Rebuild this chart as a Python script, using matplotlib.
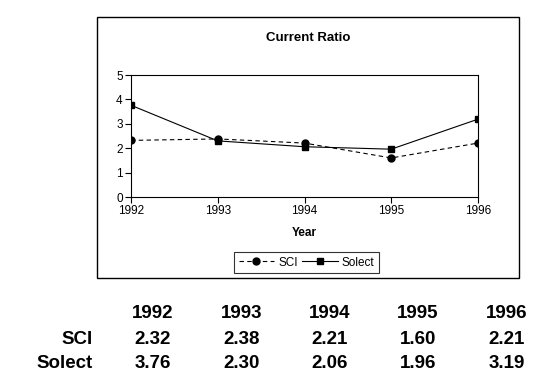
import matplotlib
matplotlib.use("Agg")
import matplotlib.pyplot as plt
from matplotlib.patches import Rectangle

years = [1992, 1993, 1994, 1995, 1996]
sci = [2.32, 2.38, 2.21, 1.60, 2.21]
solect = [3.76, 2.30, 2.06, 1.96, 3.19]
y_ticks = [0, 1, 2, 3, 4, 5]

plt.rcParams["font.family"] = ["Liberation Sans", "DejaVu Sans"]

W, H = 538, 379
fig = plt.figure(figsize=(W / 100, H / 100), dpi=100)


def fx(px):
    return px / W


def fy(py):
    return 1 - py / H


# outer chart frame
fig.patches.append(Rectangle((fx(97), fy(278)), fx(519) - fx(97), fy(17) - fy(278),
                             transform=fig.transFigure, fill=False,
                             edgecolor="black", linewidth=1.0))

ax = fig.add_axes([fx(131), fy(197), fx(478) - fx(131), fy(75) - fy(197)])
ax.plot(years, sci, "k--", marker="o", markersize=5, linewidth=0.8,
        dashes=(4, 3), label="SCI")
ax.plot(years, solect, "k-", marker="s", markersize=5, linewidth=0.8,
        label="Solect")
ax.set_xlim(years[0], years[-1])
ax.set_ylim(0, 5)
ax.set_xticks(years)
ax.set_yticks(y_ticks)
ax.tick_params(axis="both", labelsize=8.5, length=4, width=0.8, direction="out",
               pad=2)
for s in ax.spines.values():
    s.set_linewidth(0.8)
ax.set_xlabel("Year", fontsize=8.5, fontweight="bold", labelpad=7)

fig.text(fx(308), fy(38), "Current Ratio", ha="center", va="center",
         fontsize=9.5, fontweight="bold")

leg = fig.legend(loc="center", bbox_to_anchor=(fx(306.5), fy(262.5)), ncol=2,
                 fontsize=8.5, frameon=True, fancybox=False, handlelength=3.0,
                 columnspacing=0.4, handletextpad=0.35, borderpad=0.35,
                 borderaxespad=0)
leg.get_frame().set_edgecolor("black")
leg.get_frame().set_linewidth(0.8)

# data table below the chart
col_x = [153, 242, 330, 418, 507]
row_y = [314, 339, 364]
for x, yr in zip(col_x, years):
    fig.text(fx(x), fy(row_y[0]), str(yr), ha="center", va="center",
             fontsize=13.5, fontweight="bold")
for label, vals, y in [("SCI", sci, row_y[1]), ("Solect", solect, row_y[2])]:
    fig.text(fx(93), fy(y), label, ha="right", va="center",
             fontsize=13.5, fontweight="bold")
    for x, v in zip(col_x, vals):
        fig.text(fx(x), fy(y), f"{v:.2f}", ha="center", va="center",
                 fontsize=13.5, fontweight="bold")

fig.savefig("out.png", dpi=100)
